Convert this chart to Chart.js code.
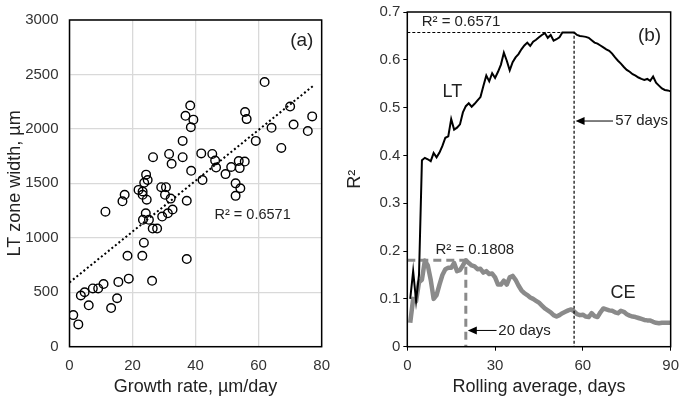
<!DOCTYPE html>
<html>
<head>
<meta charset="utf-8">
<script src="https://cdn.jsdelivr.net/npm/chart.js@4.4.1/dist/chart.umd.min.js"></script>
<style>
  html, body { margin: 0; padding: 0; background: #fff; }
  #wrap { position: relative; width: 685px; height: 400px; }
  #boxA { position: absolute; left: 0; top: 0; width: 340px; height: 400px; }
  #boxB { position: absolute; left: 340px; top: 0; width: 345px; height: 400px; }
</style>
</head>
<body>
<div id="wrap">
  <div id="boxA"><canvas id="chartA" width="340" height="400"></canvas></div>
  <div id="boxB"><canvas id="chartB" width="345" height="400"></canvas></div>
</div>
<script>
// panel (a): growth rate vs LT zone width
const growthRate = [
  61.9, 38.3, 36.8, 39.3, 38.5, 35.9, 35.9, 38.6, 26.5, 31.6,
  32.4, 41.8, 45.3, 46.2, 46.5, 42.2, 49.5, 51.3, 53.7, 55.6,
  54.0, 52.7, 54.2, 52.7, 55.7, 56.2, 59.1, 64.1, 67.2, 70.0,
  71.1, 75.6, 77.0, 24.3, 24.8, 23.7, 21.9, 23.2, 23.2, 24.5,
  17.5, 16.8, 29.1, 30.6, 30.3, 32.1, 37.2, 11.4, 24.2, 23.3,
  25.2, 32.7, 31.2, 29.4, 26.4, 27.8, 23.6, 18.4, 23.1, 37.2,
  26.2, 18.8, 15.5, 10.8, 9.1, 7.4, 4.8, 3.6, 6.1, 15.1,
  13.2, 1.2, 2.8
];
const ltWidth = [
  2430, 2215, 2120, 2085, 2015, 1890, 1740, 1615, 1740, 1770,
  1680, 1775, 1770, 1710, 1645, 1530, 1585, 1650, 1705, 1700,
  1640, 1500, 1455, 1385, 2155, 2090, 1890, 2010, 1825, 2205,
  2040, 1980, 2115, 1580, 1530, 1505, 1440, 1425, 1395, 1350,
  1395, 1335, 1465, 1465, 1395, 1360, 1340, 1240, 1225, 1165,
  1165, 1260, 1225, 1195, 1085, 1085, 955, 835, 835, 805,
  605, 625, 595, 575, 535, 535, 500, 470, 380, 445,
  355, 290, 205
];
const trendX = [0, 77.5];
const trendY = [590, 2400];
const xTicksA = [0, 20, 40, 60, 80];
const yTicksA = [0, 500, 1000, 1500, 2000, 2500, 3000];

// panel (b): R² against rolling average window
const days = [
  1, 2, 3, 4, 5, 6, 7, 8, 9, 10,
  11, 12, 13, 14, 15, 16, 17, 18, 19, 20,
  21, 22, 23, 24, 25, 26, 27, 28, 29, 30,
  31, 32, 33, 34, 35, 36, 37, 38, 39, 40,
  41, 42, 43, 44, 45, 46, 47, 48, 49, 50,
  51, 52, 53, 54, 55, 56, 57, 58, 59, 60,
  61, 62, 63, 64, 65, 66, 67, 68, 69, 70,
  71, 72, 73, 74, 75, 76, 77, 78, 79, 80,
  81, 82, 83, 84, 85, 86, 87, 88, 89, 90
];
const ltR2 = [
  0.100, 0.158, 0.096, 0.150, 0.390, 0.395, 0.392, 0.388, 0.405, 0.396,
  0.406, 0.420, 0.437, 0.440, 0.476, 0.454, 0.458, 0.465, 0.490, 0.503,
  0.509, 0.502, 0.508, 0.515, 0.522, 0.545, 0.567, 0.555, 0.572, 0.562,
  0.575, 0.590, 0.615, 0.598, 0.578, 0.595, 0.605, 0.612, 0.622, 0.630,
  0.636, 0.629, 0.638, 0.642, 0.647, 0.652, 0.656, 0.646, 0.652, 0.640,
  0.643, 0.647, 0.6571, 0.6571, 0.6571, 0.6571, 0.6571, 0.652, 0.650, 0.649,
  0.648, 0.646, 0.641, 0.636, 0.634, 0.630, 0.626, 0.622, 0.619, 0.613,
  0.605, 0.598, 0.592, 0.585, 0.579, 0.575, 0.570, 0.567, 0.563, 0.560,
  0.558, 0.560, 0.556, 0.565, 0.552, 0.546, 0.540, 0.537, 0.536, 0.534
];
const ceR2 = [
  0.050, 0.100, 0.095, 0.135, 0.140, 0.180, 0.170, 0.140, 0.100, 0.108,
  0.130, 0.150, 0.162, 0.165, 0.165, 0.175, 0.158, 0.160, 0.170, 0.1808,
  0.175, 0.170, 0.168, 0.162, 0.163, 0.155, 0.158, 0.152, 0.153, 0.145,
  0.130, 0.130, 0.138, 0.130, 0.145, 0.148, 0.140, 0.128, 0.118, 0.112,
  0.108, 0.103, 0.100, 0.096, 0.092, 0.086, 0.080, 0.076, 0.072, 0.066,
  0.063, 0.066, 0.070, 0.073, 0.076, 0.078, 0.074, 0.068, 0.066, 0.067,
  0.063, 0.062, 0.070, 0.064, 0.062, 0.072, 0.080, 0.078, 0.076, 0.075,
  0.072, 0.070, 0.075, 0.073, 0.068, 0.065, 0.063, 0.062, 0.060, 0.058,
  0.056, 0.055, 0.055, 0.052, 0.050, 0.049, 0.050, 0.050, 0.050, 0.050
];
const ltBest = { day: 57, r2: 0.6571 };
const ceBest = { day: 20, r2: 0.1808 };
const xTicksB = [0, 30, 60, 90];
const yTicksB = [0, 0.1, 0.2, 0.3, 0.4, 0.5, 0.6, 0.7];

Chart.defaults.font.family = "'Liberation Sans', Arial, sans-serif";
Chart.defaults.color = '#333';
Chart.defaults.animation = false;

const pts = (xs, ys) => xs.map((v, i) => ({ x: v, y: ys[i] }));

const frame = {
  id: 'frame',
  afterDatasetsDraw(chart) {
    const a = chart.chartArea;
    const ctx = chart.ctx;
    ctx.save();
    ctx.strokeStyle = '#000';
    ctx.lineWidth = 1.5;
    ctx.strokeRect(a.left, a.top, a.right - a.left, a.bottom - a.top);
    ctx.restore();
  }
};

function arrow(ctx, x0, y0, x1, y1) {
  ctx.beginPath();
  ctx.moveTo(x0, y0);
  ctx.lineTo(x1 + 7, y1);
  ctx.stroke();
  ctx.beginPath();
  ctx.moveTo(x1, y1);
  ctx.lineTo(x1 + 9, y1 - 4);
  ctx.lineTo(x1 + 9, y1 + 4);
  ctx.closePath();
  ctx.fill();
}

const FONT = "'Liberation Sans', Arial, sans-serif";

const notesA = {
  id: 'notesA',
  afterDraw(chart) {
    const { ctx, scales: { x, y } } = chart;
    ctx.save();
    ctx.fillStyle = '#222';
    ctx.textAlign = 'center';
    ctx.textBaseline = 'middle';
    ctx.font = '19px ' + FONT;
    ctx.fillText('(a)', x.getPixelForValue(73.7), y.getPixelForValue(2811));
    ctx.font = '14.5px ' + FONT;
    ctx.fillText('R² = 0.6571', x.getPixelForValue(58.1), y.getPixelForValue(1210));
    ctx.restore();
  }
};

const notesB = {
  id: 'notesB',
  afterDraw(chart) {
    const { ctx, scales: { x, y } } = chart;
    ctx.save();
    ctx.fillStyle = '#222';
    ctx.strokeStyle = '#000';
    ctx.lineWidth = 1;
    ctx.textBaseline = 'middle';
    ctx.font = '19px ' + FONT;
    ctx.textAlign = 'center';
    ctx.fillText('(b)', x.getPixelForValue(82.8), y.getPixelForValue(0.65));
    ctx.font = '18px ' + FONT;
    ctx.fillText('LT', x.getPixelForValue(15.4), y.getPixelForValue(0.533));
    ctx.fillText('CE', x.getPixelForValue(73.7), y.getPixelForValue(0.113));
    ctx.textAlign = 'left';
    ctx.font = '15px ' + FONT;
    ctx.fillText('R² = 0.6571', x.getPixelForValue(4.9), y.getPixelForValue(0.68));
    ctx.fillText('R² = 0.1808', x.getPixelForValue(9.6), y.getPixelForValue(0.2015));
    ctx.fillStyle = '#000';
    arrow(ctx, x.getPixelForValue(70.3), y.getPixelForValue(0.472),
          x.getPixelForValue(ltBest.day) + 1.5, y.getPixelForValue(0.472));
    ctx.fillStyle = '#222';
    ctx.fillText('57 days', x.getPixelForValue(71.1), y.getPixelForValue(0.472));
    ctx.fillStyle = '#000';
    arrow(ctx, x.getPixelForValue(30.5), y.getPixelForValue(0.034),
          x.getPixelForValue(ceBest.day) + 2, y.getPixelForValue(0.034));
    ctx.fillStyle = '#222';
    ctx.fillText('20 days', x.getPixelForValue(31.1), y.getPixelForValue(0.034));
    ctx.restore();
  }
};

const titleFont = { size: 18 };
const tickFont = { size: 15 };

new Chart(document.getElementById('chartA'), {
  type: 'scatter',
  data: {
    datasets: [
      {
        data: pts(growthRate, ltWidth),
        pointRadius: 4.3,
        pointBorderWidth: 1.4,
        pointBorderColor: '#000',
        pointBackgroundColor: 'rgba(255,255,255,0)',
        order: 1
      },
      {
        data: pts(trendX, trendY),
        showLine: true,
        borderColor: '#000',
        borderWidth: 2,
        borderDash: [2, 2.5],
        pointRadius: 0,
        order: 0
      }
    ]
  },
  options: {
    responsive: false,
    layout: { padding: { left: 0, right: 15, top: 7.5, bottom: 0 } },
    plugins: { legend: { display: false }, tooltip: { enabled: false } },
    scales: {
      x: {
        type: 'linear', min: 0, max: 80,
        afterFit: s => { s.height = 53.3; },
        afterBuildTicks: s => { s.ticks = xTicksA.map(v => ({ value: v })); },
        grid: { color: '#d9d9d9', lineWidth: 1.3, drawTicks: false },
        border: { display: false },
        ticks: { font: tickFont, padding: 10, callback: v => String(v) },
        title: { display: true, text: 'Growth rate, µm/day', font: titleFont, color: '#222', padding: { top: 4, bottom: 2 } }
      },
      y: {
        type: 'linear', min: 0, max: 3000,
        afterFit: s => { s.width = 69.5; },
        afterBuildTicks: s => { s.ticks = yTicksA.map(v => ({ value: v })); },
        grid: { color: '#d9d9d9', lineWidth: 1.3, drawTicks: false },
        border: { display: false },
        ticks: { font: tickFont, padding: 11, callback: v => String(v) },
        title: { display: true, text: 'LT zone width, µm', font: titleFont, color: '#222', padding: { top: 4, bottom: 4 } }
      }
    }
  },
  plugins: [frame, notesA]
});

new Chart(document.getElementById('chartB'), {
  type: 'scatter',
  data: {
    datasets: [
      {
        label: 'LT',
        data: pts(days, ltR2),
        showLine: true,
        borderColor: '#000',
        borderWidth: 2,
        pointRadius: 0,
        order: 1
      },
      {
        data: [{ x: 0, y: ltBest.r2 }, { x: ltBest.day, y: ltBest.r2 }, { x: ltBest.day, y: 0 }],
        showLine: true,
        borderColor: '#000',
        borderWidth: 1.2,
        borderDash: [3, 2],
        pointRadius: 0,
        order: 0
      },
      {
        label: 'CE',
        data: pts(days, ceR2),
        showLine: true,
        borderColor: '#8a8a8a',
        borderWidth: 4.5,
        borderJoinStyle: 'round',
        pointRadius: 0,
        order: 3
      },
      {
        data: [{ x: 0, y: ceBest.r2 }, { x: ceBest.day, y: ceBest.r2 }, { x: ceBest.day, y: 0 }],
        showLine: true,
        borderColor: '#8a8a8a',
        borderWidth: 3,
        borderDash: [8, 5],
        pointRadius: 0,
        order: 2
      }
    ]
  },
  options: {
    responsive: false,
    layout: { padding: { left: 0, right: 10, top: 7.3, bottom: 0 } },
    plugins: { legend: { display: false }, tooltip: { enabled: false } },
    scales: {
      x: {
        type: 'linear', min: 0, max: 90,
        afterFit: s => { s.height = 53.3; },
        afterBuildTicks: s => { s.ticks = xTicksB.map(v => ({ value: v })); },
        grid: { drawOnChartArea: false, drawTicks: true, tickLength: 4, color: '#000' },
        border: { display: false },
        ticks: { font: tickFont, padding: 6, callback: v => String(v) },
        title: { display: true, text: 'Rolling average, days', font: titleFont, color: '#222', padding: { top: 4, bottom: 2 } }
      },
      y: {
        type: 'linear', min: 0, max: 0.7,
        afterFit: s => { s.width = 67.3; },
        afterBuildTicks: s => { s.ticks = yTicksB.map(v => ({ value: v })); },
        grid: { drawOnChartArea: false, drawTicks: true, tickLength: 4, color: '#000' },
        border: { display: false },
        ticks: { font: tickFont, padding: 3, callback: v => (v === 0 ? '0' : v.toFixed(1)) },
        title: { display: true, text: 'R²', font: titleFont, color: '#222', padding: { top: 4, bottom: 4 } }
      }
    }
  },
  plugins: [frame, notesB]
});
</script>
</body>
</html>
